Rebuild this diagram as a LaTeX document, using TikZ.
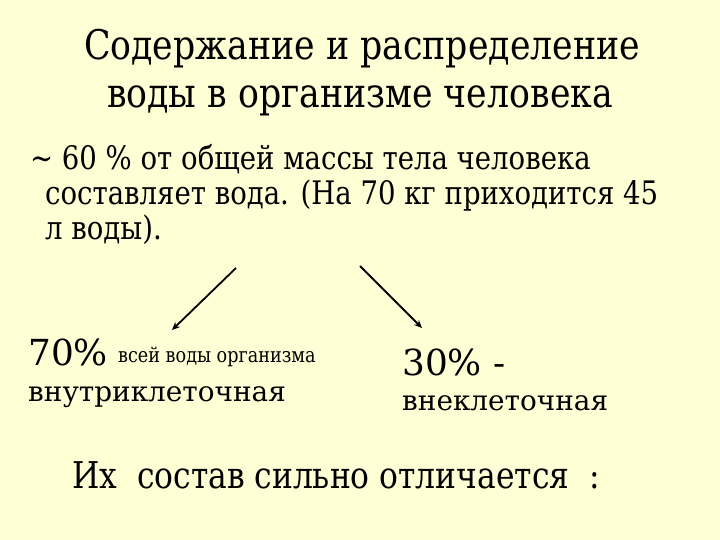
\documentclass[tikz,border=0pt]{standalone}
\usepackage{fontspec}
\setmainfont{DejaVu Serif}
\newfontfamily\narrowfont[FakeStretch=0.85]{DejaVu Serif}
\usetikzlibrary{arrows.meta}
\definecolor{slidebg}{RGB}{255,255,214}

\begin{document}
\begin{tikzpicture}[x=1bp, y=-1bp,
    lbl/.style={anchor=base west, inner sep=0pt},
    title/.style={anchor=base, inner sep=0pt, font=\narrowfont\fontsize{41}{46}\selectfont},
    body/.style={lbl, font=\narrowfont\fontsize{32.5}{37}\selectfont},
    big/.style={lbl, font=\fontsize{36}{40}\selectfont},
    sub/.style={lbl, font=\fontsize{28}{32}\selectfont},
    link/.style={-{Stealth[length=8bp,width=7bp]}, line width=1.8bp, black}]
    % slide background
    \fill[slidebg] (0,0) rectangle (720,540);
    \useasboundingbox (0,0) rectangle (720,540);

    % Title
    \node[title] (title1) at (362,60) {Содержание и распределение};
    \node[title] (title2) at (360,108) {воды в организме человека};

    % Body text
    \node[body] (line1) at (30,170) {\textasciitilde{} 60 \% от общей массы тела человека};
    \node[body] (line2) at (45,205) {составляет вода. (На 70 кг приходится 45};
    \node[body] (line3) at (45,240) {л воды).};

    % Arrows
    \coordinate (lfrom) at (236,268);
    \coordinate (lto) at (172,330);
    \coordinate (rfrom) at (360,266);
    \coordinate (rto) at (422,328);
    \draw[link] (lfrom) -- (lto);
    \draw[link] (rfrom) -- (rto);

    % LEFT: intracellular
    \node[big] (pct70) at (28,365) {70\%};
    \node[lbl, font=\narrowfont\fontsize{20.8}{24}\selectfont] (share) at (118,362) {всей воды организма};
    \node[sub] (inner) at (28,401) {внутриклеточная};

    % RIGHT: extracellular
    \node[big] (pct30) at (402,375) {30\% -};
    \node[sub] (outer) at (402,410) {внеклеточная};

    % Bottom line
    \node[lbl, font=\narrowfont\fontsize{37}{42}\selectfont] (differ) at (72,488)
        {Их~ состав сильно отличается~ :};
\end{tikzpicture}
\end{document}
